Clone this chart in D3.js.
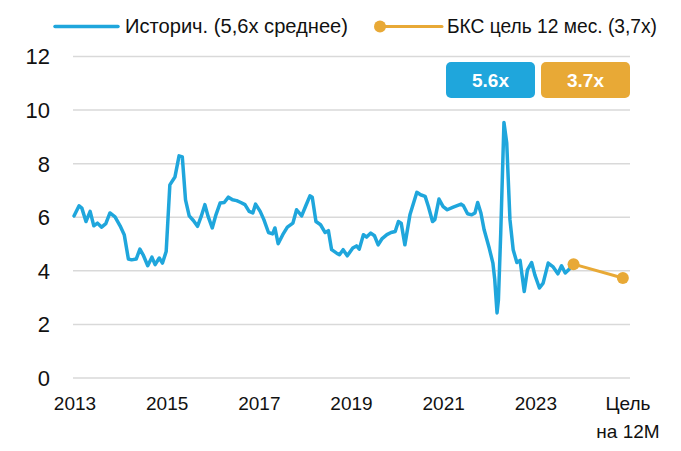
<!DOCTYPE html>
<html>
<head>
<meta charset="utf-8">
<script src="https://cdn.jsdelivr.net/npm/d3@7.9.0/dist/d3.min.js"></script>
<style>
  html, body { margin: 0; padding: 0; background: #fff; }
  svg { display: block; font-family: 'Liberation Sans', Arial, sans-serif; }
</style>
</head>
<body>
<svg id="chart" width="681" height="451"></svg>
<script>
// historical P/E, decimal years
const histYears = [
  2013.00, 2013.11, 2013.17, 2013.26, 2013.35, 2013.43, 2013.51, 2013.60, 2013.69, 2013.78,
  2013.89, 2014.00, 2014.09, 2014.18, 2014.25, 2014.35, 2014.43, 2014.50, 2014.60, 2014.69,
  2014.76, 2014.85, 2014.92, 2015.00, 2015.08, 2015.19, 2015.28, 2015.35, 2015.42, 2015.50,
  2015.59, 2015.68, 2015.76, 2015.84, 2015.91, 2016.00, 2016.08, 2016.17, 2016.26, 2016.35,
  2016.44, 2016.53, 2016.62, 2016.71, 2016.80, 2016.88, 2016.94, 2017.04, 2017.12, 2017.22,
  2017.31, 2017.36, 2017.43, 2017.53, 2017.63, 2017.75, 2017.83, 2017.94, 2018.03, 2018.12,
  2018.17, 2018.25, 2018.35, 2018.45, 2018.52, 2018.59, 2018.70, 2018.76, 2018.84, 2018.93,
  2019.05, 2019.13, 2019.19, 2019.28, 2019.35, 2019.44, 2019.52, 2019.60, 2019.68, 2019.79,
  2019.88, 2019.97, 2020.04, 2020.10, 2020.18, 2020.29, 2020.44, 2020.52, 2020.62, 2020.69,
  2020.78, 2020.83, 2020.92, 2021.01, 2021.10, 2021.23, 2021.40, 2021.45, 2021.54, 2021.63,
  2021.70, 2021.76, 2021.83, 2021.90, 2022.01, 2022.09, 2022.13, 2022.18, 2022.21, 2022.26,
  2022.33, 2022.39, 2022.46, 2022.53, 2022.61, 2022.68, 2022.77, 2022.84, 2022.93, 2023.00,
  2023.10, 2023.18, 2023.29, 2023.39, 2023.50, 2023.58, 2023.66, 2023.75, 2023.84
];
const histValues = [
  6.05, 6.43, 6.34, 5.84, 6.22, 5.68, 5.78, 5.63, 5.76, 6.16,
  6.01, 5.68, 5.35, 4.44, 4.41, 4.44, 4.81, 4.60, 4.19, 4.51,
  4.23, 4.48, 4.29, 4.72, 7.21, 7.50, 8.29, 8.25, 6.65, 6.05,
  5.88, 5.66, 6.03, 6.47, 6.03, 5.60, 6.09, 6.53, 6.55, 6.75,
  6.65, 6.62, 6.55, 6.47, 6.22, 6.16, 6.49, 6.22, 5.91, 5.43,
  5.38, 5.60, 5.01, 5.35, 5.63, 5.78, 6.28, 6.05, 6.43, 6.80,
  6.75, 5.84, 5.72, 5.43, 5.50, 4.79, 4.66, 4.60, 4.79, 4.56,
  4.85, 4.93, 4.81, 5.35, 5.26, 5.41, 5.31, 4.97, 5.19, 5.35,
  5.43, 5.47, 5.84, 5.78, 4.97, 6.09, 6.93, 6.84, 6.78, 6.40,
  5.84, 5.91, 6.68, 6.40, 6.28, 6.38, 6.49, 6.43, 6.13, 6.09,
  6.16, 6.55, 6.16, 5.53, 4.85, 4.29, 3.67, 2.43, 2.92, 5.41,
  9.54, 8.77, 5.91, 4.79, 4.31, 4.39, 3.23, 4.04, 4.31, 3.85,
  3.36, 3.54, 4.29, 4.16, 3.89, 4.19, 3.92, 4.07, 4.25
];

// BKS 12-month target
const targetYears = [2023.84, 2024.91];
const targetValues = [4.25, 3.73];

const yTicks = [0, 2, 4, 6, 8, 10, 12];
const xTickYears = [2013, 2015, 2017, 2019, 2021, 2023, 2025];
const xTickLabels = ['2013', '2015', '2017', '2019', '2021', '2023', ['Цель', 'на 12М']];

const legendItems = ['Историч. (5,6х среднее)', 'БКС цель 12 мес. (3,7х)'];
const badgeLabels = ['5.6x', '3.7x'];

const BLUE = '#1fa6dc';
const ORANGE = '#e8a936';

const svg = d3.select('#chart');

const x = d3.scaleLinear().domain([2013, 2025]).range([74, 627]);
const y = d3.scaleLinear().domain([0, 12]).range([378, 56.5]);

// gridlines
svg.append('g')
  .selectAll('line')
  .data(yTicks)
  .join('line')
    .attr('x1', 73).attr('x2', 630)
    .attr('y1', d => y(d)).attr('y2', d => y(d))
    .attr('stroke', '#d9d9d9')
    .attr('stroke-width', 1.5);

// y labels
svg.append('g')
  .selectAll('text')
  .data(yTicks)
  .join('text')
    .attr('x', 50)
    .attr('y', d => y(d))
    .attr('dy', '0.36em')
    .attr('text-anchor', 'end')
    .attr('font-size', 22)
    .attr('fill', '#111')
    .text(d => d);

// x labels
const xl = svg.append('g')
  .selectAll('text')
  .data(xTickYears)
  .join('text')
    .attr('text-anchor', 'middle')
    .attr('font-size', 19)
    .attr('fill', '#111')
    .attr('y', 410);
xl.each(function(d, i) {
  const lab = xTickLabels[i];
  const t = d3.select(this);
  const lines = Array.isArray(lab) ? lab : [lab];
  lines.forEach((s, j) => {
    t.append('tspan')
      .attr('x', x(d) + 1)
      .attr('dy', j === 0 ? 0 : 28)
      .text(s);
  });
});

// historical line
const line = d3.line()
  .x(d => x(d[0]))
  .y(d => y(d[1]));

svg.append('path')
  .datum(d3.zip(histYears, histValues))
  .attr('fill', 'none')
  .attr('stroke', BLUE)
  .attr('stroke-width', 3.5)
  .attr('stroke-linejoin', 'round')
  .attr('stroke-linecap', 'round')
  .attr('d', line);

// target line + dots
const tgt = d3.zip(targetYears, targetValues);
svg.append('path')
  .datum(tgt)
  .attr('fill', 'none')
  .attr('stroke', ORANGE)
  .attr('stroke-width', 3)
  .attr('d', line);

svg.append('g')
  .selectAll('circle')
  .data(tgt)
  .join('circle')
    .attr('cx', d => x(d[0]))
    .attr('cy', d => y(d[1]))
    .attr('r', 6)
    .attr('fill', ORANGE);

// legend
const lg = svg.append('g');
lg.append('line')
  .attr('x1', 55).attr('x2', 118).attr('y1', 26.5).attr('y2', 26.5)
  .attr('stroke', BLUE).attr('stroke-width', 3.5).attr('stroke-linecap', 'round');
lg.append('text')
  .attr('x', 125).attr('y', 26.5).attr('dy', '0.35em')
  .attr('font-size', 19.5).attr('fill', '#111')
  .attr('textLength', 223).attr('lengthAdjust', 'spacingAndGlyphs')
  .text(legendItems[0]);
lg.append('line')
  .attr('x1', 380).attr('x2', 442).attr('y1', 26.5).attr('y2', 26.5)
  .attr('stroke', ORANGE).attr('stroke-width', 3).attr('stroke-linecap', 'round');
lg.append('circle')
  .attr('cx', 380).attr('cy', 26.5).attr('r', 6).attr('fill', ORANGE);
lg.append('text')
  .attr('x', 447).attr('y', 26.5).attr('dy', '0.35em')
  .attr('font-size', 19.5).attr('fill', '#111')
  .attr('textLength', 210).attr('lengthAdjust', 'spacingAndGlyphs')
  .text(legendItems[1]);

// badges
const badges = svg.append('g')
  .selectAll('g')
  .data(badgeLabels)
  .join('g')
    .attr('transform', (d, i) => `translate(${446 + i * 95},62)`);
badges.append('rect')
  .attr('width', 89).attr('height', 36).attr('rx', 5)
  .attr('fill', (d, i) => i === 0 ? BLUE : ORANGE);
badges.append('text')
  .attr('x', 44.5).attr('y', 18).attr('dy', '0.36em')
  .attr('text-anchor', 'middle')
  .attr('font-size', 19).attr('font-weight', 'bold')
  .attr('fill', '#fff')
  .text(d => d);
</script>
</body>
</html>
